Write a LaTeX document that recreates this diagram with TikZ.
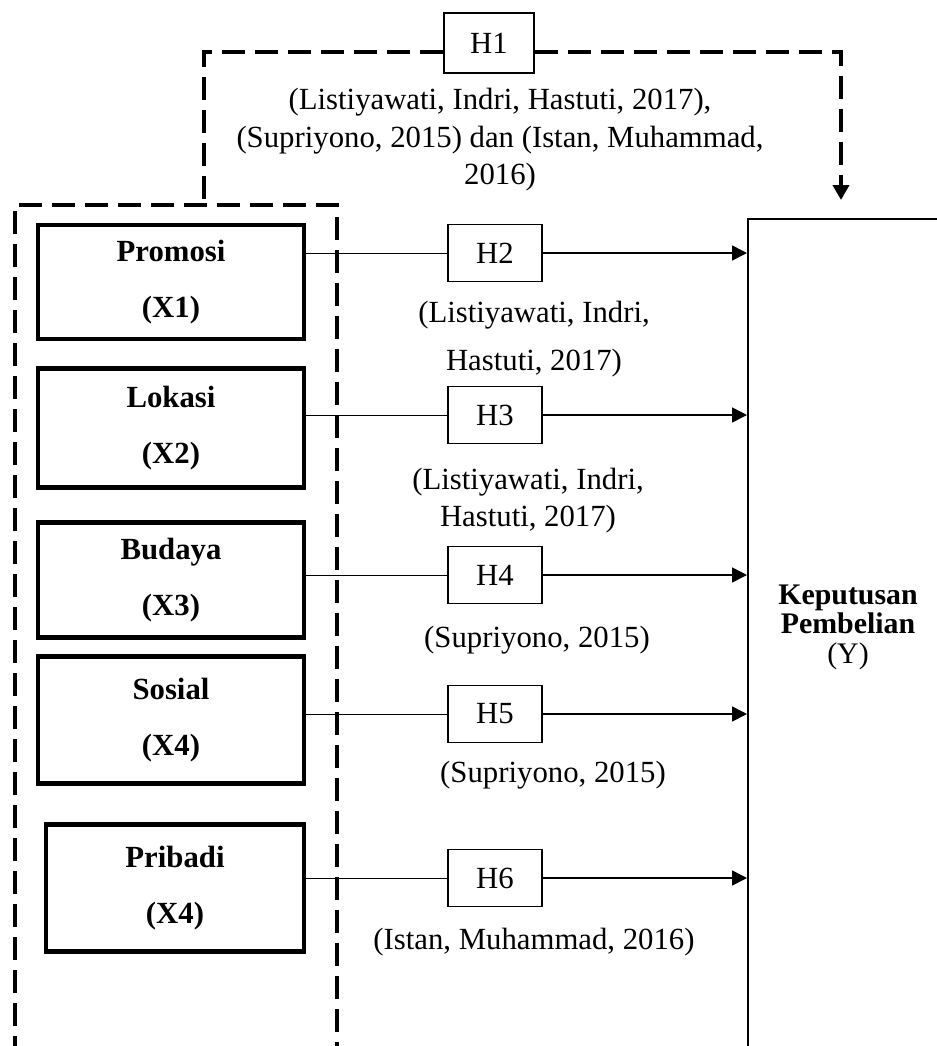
\documentclass[tikz,border=0pt]{standalone}
\usepackage{fontspec}
\setmainfont{Liberation Serif}
\usetikzlibrary{arrows.meta}
\begin{document}
\begin{tikzpicture}
    [
    x=0.2mm, y=-0.2mm,
    every node/.style={font=\fontsize{17.5}{21}\selectfont},
    hypo/.style={draw,line width=0.8pt,minimum width=18.8mm,minimum height=11.4mm,inner sep=0pt},
    factor/.style={draw,line width=2.3pt,minimum width=53.2mm,minimum height=23.8mm,align=center,inner sep=0pt,font=\bfseries\fontsize{17.5}{32}\selectfont},
    source/.style={align=center,inner sep=0pt},
    dashedline/.style={line width=2.3pt,dash pattern=on 4.6mm off 2mm},
    link/.style={line width=0.5pt},
    effect/.style={line width=0.9pt,-{Triangle[length=3mm,width=3mm]}}
    ]
    \useasboundingbox (0,0) rectangle (937,1046);
    \clip (0,0) rectangle (937,1046);
    % outer frames
    \node (keputusan) [draw,line width=0.9pt,minimum width=60mm,minimum height=200mm,anchor=north west,inner sep=0pt] at (747,218) {};
    \node (group) [draw,dashedline,minimum width=64.4mm,minimum height=200mm,anchor=north west,inner sep=0pt] at (13,203) {};
    \node (ylabel) [align=center,font=\fontsize{17}{16.8}\selectfont] at (848,627) {\textbf{Keputusan}\\\textbf{Pembelian}\\(Y)};
    % factors
    \node (x1) [factor,minimum height=22.8mm] at (171,282) {Promosi\\(X1)};
    \node (x2) [factor] at (171,428) {Lokasi\\(X2)};
    \node (x3) [factor,minimum height=23mm] at (171,580) {Budaya\\(X3)};
    \node (x4) [factor,minimum height=25.4mm] at (171,720) {Sosial\\(X4)};
    \node (x5) [factor,minimum height=25.4mm,minimum width=51.6mm] at (175,888) {Pribadi\\(X4)};
    % hypotheses
    \node (h1) [hypo,minimum width=18mm,minimum height=12mm] at (489,43) {H1};
    \node (h2) [hypo] at (495,253) {H2};
    \node (h3) [hypo] at (495,415) {H3};
    \node (h4) [hypo] at (495,575) {H4};
    \node (h5) [hypo] at (495,714) {H5};
    \node (h6) [hypo] at (495,878) {H6};
    % sources
    \node (s1) [source,font=\fontsize{17.5}{21.3}\selectfont] at (500,140) {(Listiyawati, Indri, Hastuti, 2017),\\(Supriyono, 2015) dan (Istan, Muhammad,\\2016)};
    \node (s2) [source,font=\fontsize{17.5}{27.3}\selectfont] at (534,339) {(Listiyawati, Indri,\\Hastuti, 2017)};
    \node (s3) [source] at (528,501) {(Listiyawati, Indri,\\Hastuti, 2017)};
    \node (s4) [source] at (537,640) {(Supriyono, 2015)};
    \node (s5) [source] at (553,775) {(Supriyono, 2015)};
    \node (s6) [source] at (534,942) {(Istan, Muhammad, 2016)};
    % H1 path
    \coordinate (split) at (204,52);
    \coordinate (bend) at (841,52);
    \coordinate (tip) at (841,200);
    \draw [dashedline] (split -| h1.west) -- (split) -- (split |- group.north);
    \draw [dashedline,-{Triangle[length=3mm,width=3.2mm]}] (bend -| h1.east) -- (bend) -- (tip);
    % links
    \draw [link] (x1.east |- h2.west) -- (h2.west);
    \draw [link] (x2.east |- h3.west) -- (h3.west);
    \draw [link] (x3.east |- h4.west) -- (h4.west);
    \draw [link] (x4.east |- h5.west) -- (h5.west);
    \draw [link] (x5.east |- h6.west) -- (h6.west);
    \draw [effect] (h2.east) -- (h2.east -| keputusan.west);
    \draw [effect] (h3.east) -- (h3.east -| keputusan.west);
    \draw [effect] (h4.east) -- (h4.east -| keputusan.west);
    \draw [effect] (h5.east) -- (h5.east -| keputusan.west);
    \draw [effect] (h6.east) -- (h6.east -| keputusan.west);
  \end{tikzpicture}
\end{document}
